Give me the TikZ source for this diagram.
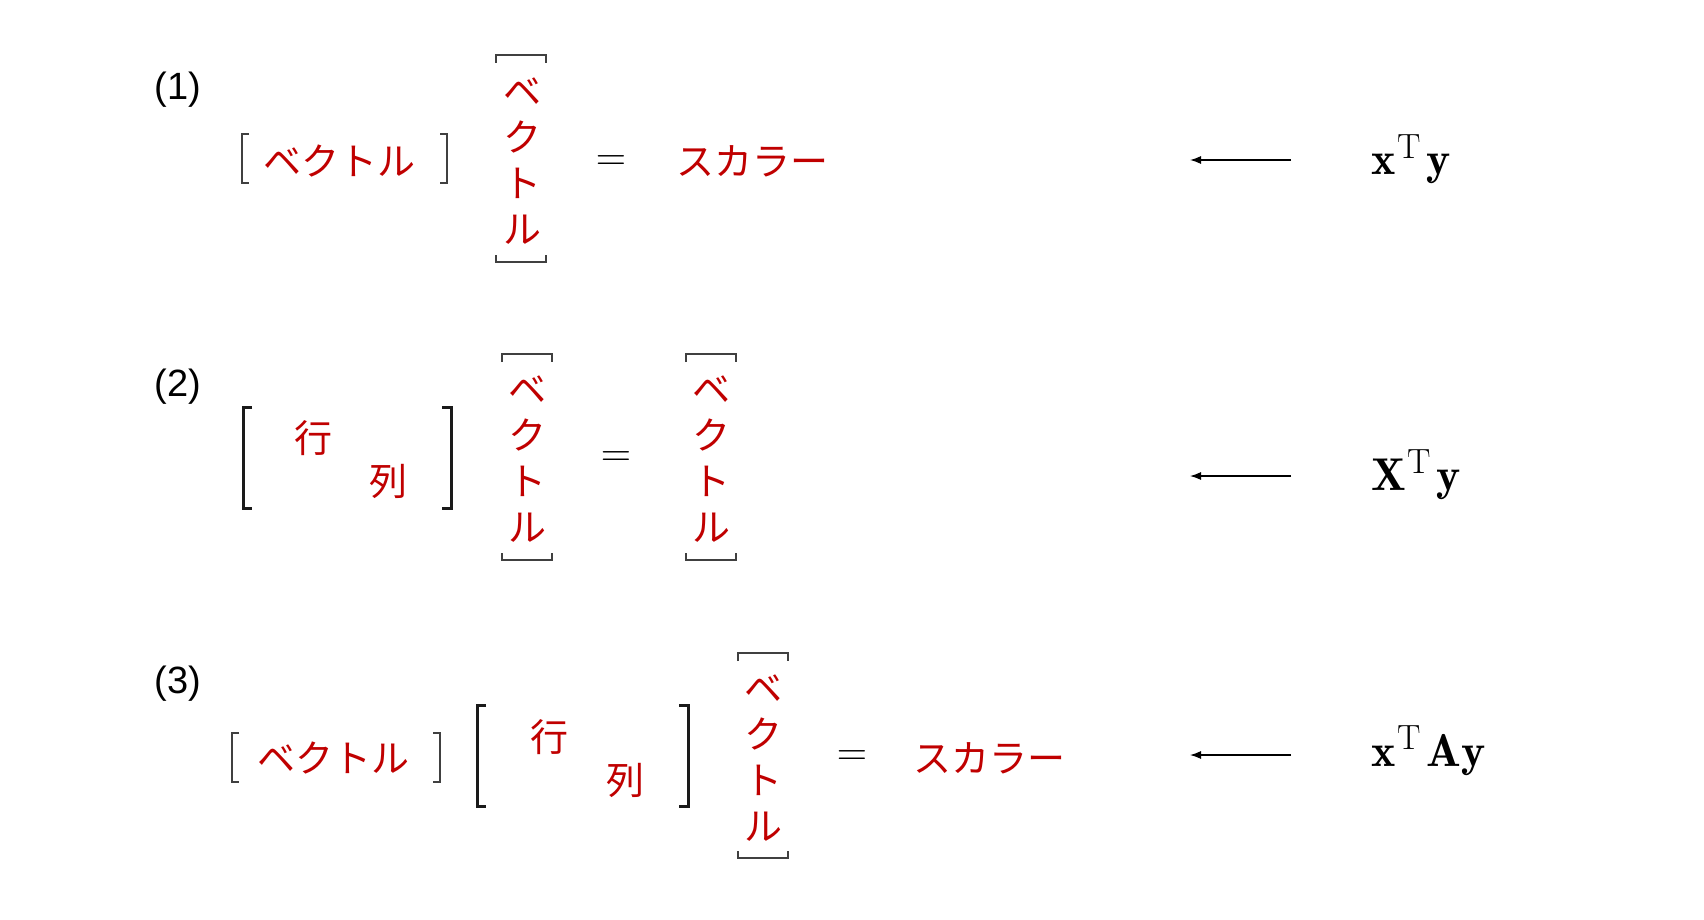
\RequirePackage{fix-cm}
\documentclass[tikz,border=0pt]{standalone}
\usepackage{fontspec}
\newfontfamily\jp{Noto Sans CJK JP}
\newfontfamily\lab{Liberation Sans}
\usetikzlibrary{arrows.meta}
\definecolor{jred}{HTML}{C00000}
\definecolor{brk}{HTML}{404040}
\definecolor{bbk}{HTML}{1A1A1A}
\newcommand\mysupT{^{\hbox{\kern2pt\fontsize{35}{35}\selectfont T}}\mkern2mu}
\begin{document}
\begin{tikzpicture}[x=1pt,y=-1pt,
  jtext/.style={text=jred,font=\jp\fontsize{38}{46}\selectfont,inner sep=0pt},
  vtext/.style={jtext,align=center},
  num/.style={font=\lab\fontsize{38}{44}\selectfont,inner sep=0pt},
  mathf/.style={font=\fontsize{46}{52}\selectfont,inner sep=0pt,anchor=base west},
  eqs/.style={font=\fontsize{42}{48}\selectfont,inner sep=0pt},
  sbr/.style={draw=brk,line width=2pt},
  bbr/.style={draw=bbk,line width=3pt},
  arr/.style={-{Latex[length=11pt,width=8pt]},line width=1.2pt}
]
\useasboundingbox[fill=white] (0,0) rectangle (1704,920);

% ---------- Row 1 ----------
\node[num] (n1) at (178,90) {(1)};
\node[jtext] (rv1) at (339,161) {ベクトル};
\draw[sbr] (249,134) -- (242,134) -- (242,183) -- (249,183);
\draw[sbr] (440,134) -- (447,134) -- (447,183) -- (440,183);
\node[vtext] (cv1) at (522,161) {ベ\\ク\\ト\\ル};
\draw[sbr] (496,63) -- (496,55) -- (546,55) -- (546,63);
\draw[sbr] (496,255) -- (496,262) -- (546,262) -- (546,255);
\node[eqs] (eq1) at (611,163) {$=$};
\node[jtext] (s1) at (752,161) {スカラー};
\node[mathf] (f1) at (1371,175) {$\mathbf{x}\mysupT\mathbf{y}$};
\coordinate (a1s) at (1291,160);
\coordinate (a1e) at (1190,160);
\draw[arr] (a1s) -- (a1e);

% ---------- Row 2 ----------
\node[num] (n2) at (178,387) {(2)};
\draw[bbr] (252,407) -- (243,407) -- (243,508) -- (252,508);
\draw[bbr] (442,407) -- (451,407) -- (451,508) -- (442,508);
\node[jtext] (g2) at (313,438) {行};
\node[jtext] (r2) at (388,481) {列};
\node[vtext] (cv2a) at (527,459) {ベ\\ク\\ト\\ル};
\draw[sbr] (502,362) -- (502,354) -- (552,354) -- (552,362);
\draw[sbr] (502,553) -- (502,560) -- (552,560) -- (552,553);
\node[eqs] (eq2) at (616,459) {$=$};
\node[vtext] (cv2b) at (711,459) {ベ\\ク\\ト\\ル};
\draw[sbr] (686,362) -- (686,354) -- (736,354) -- (736,362);
\draw[sbr] (686,553) -- (686,560) -- (736,560) -- (736,553);
\node[mathf] (f2) at (1371,490) {$\mathbf{X}\mysupT\mathbf{y}$};
\coordinate (a2s) at (1291,476);
\coordinate (a2e) at (1190,476);
\draw[arr] (a2s) -- (a2e);

% ---------- Row 3 ----------
\node[num] (n3) at (178,684) {(3)};
\node[jtext] (rv3) at (333,758) {ベクトル};
\draw[sbr] (239,733) -- (232,733) -- (232,782) -- (239,782);
\draw[sbr] (433,733) -- (440,733) -- (440,782) -- (433,782);
\draw[bbr] (486,705) -- (477,705) -- (477,806) -- (486,806);
\draw[bbr] (679,705) -- (688,705) -- (688,806) -- (679,806);
\node[jtext] (g3) at (549,737) {行};
\node[jtext] (r3) at (625,780) {列};
\node[vtext] (cv3) at (763,758) {ベ\\ク\\ト\\ル};
\draw[sbr] (738,661) -- (738,653) -- (788,653) -- (788,661);
\draw[sbr] (738,851) -- (738,858) -- (788,858) -- (788,851);
\node[eqs] (eq3) at (852,758) {$=$};
\node[jtext] (s3) at (989,758) {スカラー};
\node[mathf] (f3) at (1371,766) {$\mathbf{x}\mysupT\mathbf{A}\mathbf{y}$};
\coordinate (a3s) at (1291,755);
\coordinate (a3e) at (1190,755);
\draw[arr] (a3s) -- (a3e);
\end{tikzpicture}
\end{document}
